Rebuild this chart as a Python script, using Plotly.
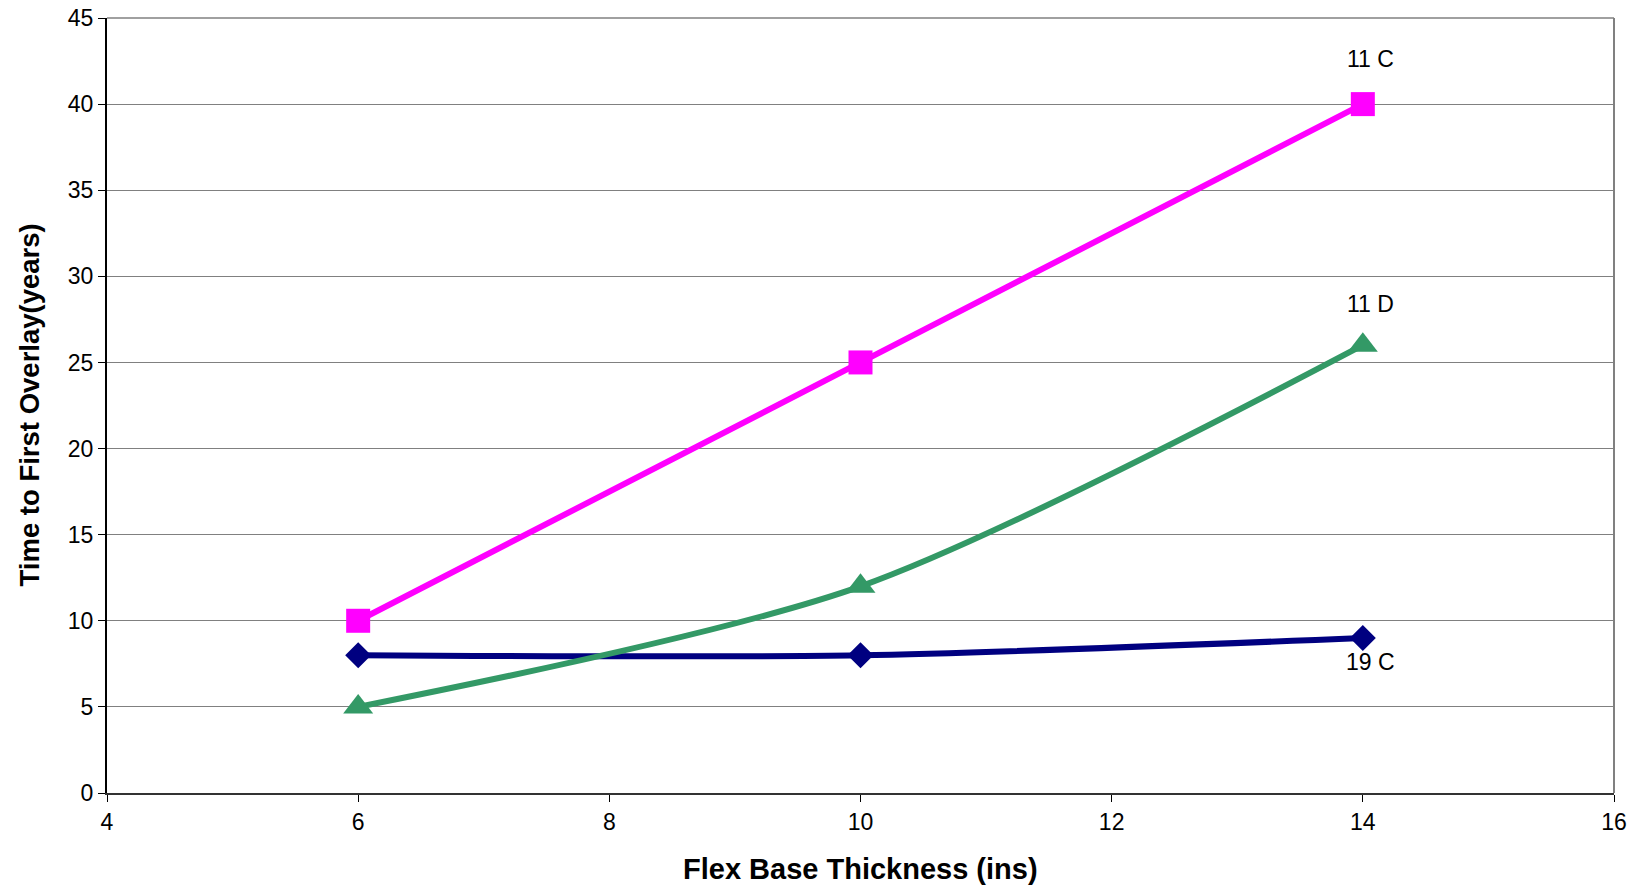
import plotly.graph_objects as go

x_vals = [6, 10, 14]
s19c = [8, 8, 9]
s11c = [10, 25, 40]
s11d = [5, 12, 26]
labels = ["19 C", "11 C", "11 D"]
label_y = [7.6, 42.6, 28.4]

FONT = "Liberation Sans, Arial"

fig = go.Figure()
fig.add_trace(go.Scatter(x=x_vals, y=s19c, mode="lines+markers", name="19 C",
                         line=dict(color="#000080", width=6, shape="spline", smoothing=0.8),
                         marker=dict(symbol="diamond", size=20, color="#000080")))
fig.add_trace(go.Scatter(x=x_vals, y=s11d, mode="lines+markers", name="11 D",
                         line=dict(color="#339966", width=6, shape="spline", smoothing=0.8),
                         marker=dict(symbol="triangle-up", size=26, color="#339966")))
fig.add_trace(go.Scatter(x=x_vals, y=s11c, mode="lines+markers", name="11 C",
                         line=dict(color="#FF00FF", width=6, shape="spline", smoothing=0.8),
                         marker=dict(symbol="square", size=24, color="#FF00FF")))

for lab, ly in zip(labels, label_y):
    fig.add_annotation(x=14.06, y=ly, text=lab, showarrow=False,
                       font=dict(family=FONT, size=23, color="black"))

# axis titles
fig.add_annotation(xref="paper", yref="paper", x=0.5, y=0, yanchor="middle", yshift=-76,
                   text="<b>Flex Base Thickness (ins)</b>", showarrow=False,
                   font=dict(family=FONT, size=29, color="black"))
fig.add_annotation(xref="paper", yref="paper", x=0, y=0.5, xanchor="center", xshift=-78,
                   textangle=-90, text="<b>Time to First Overlay(years)</b>", showarrow=False,
                   font=dict(family=FONT, size=27.5, color="black"))

fig.add_shape(type="line", xref="paper", yref="paper", x0=1, x1=1, y0=0, y1=1,
              line=dict(color="#808080", width=2))
fig.add_shape(type="line", xref="paper", yref="paper", x0=0, x1=1, y0=1, y1=1,
              line=dict(color="#808080", width=1.5))

fig.update_layout(
    width=1642, height=888,
    margin=dict(l=107, r=28, t=18, b=95),
    paper_bgcolor="white", plot_bgcolor="white",
    showlegend=False,
    font=dict(family=FONT, size=23, color="black"),
    xaxis=dict(range=[4, 16], dtick=2, tick0=4, showgrid=False, zeroline=False,
               showline=True, linecolor="#333333", linewidth=2, automargin=False,
               ticks="outside", ticklen=7, tickcolor="black", tickwidth=1,
               ticklabeloverflow="allow", tickfont=dict(size=23)),
    yaxis=dict(range=[0, 45], dtick=5, showgrid=True, gridcolor="#808080", gridwidth=1,
               zeroline=False, showline=True, linecolor="black", linewidth=2, automargin=False,
               ticks="outside", ticklen=7, tickcolor="black", tickwidth=1,
               ticklabeloverflow="allow", tickfont=dict(size=23)),
)

fig.write_html("out.html", config={"displayModeBar": False},
               post_script="document.body.style.margin='0';document.body.style.overflow='hidden';")
